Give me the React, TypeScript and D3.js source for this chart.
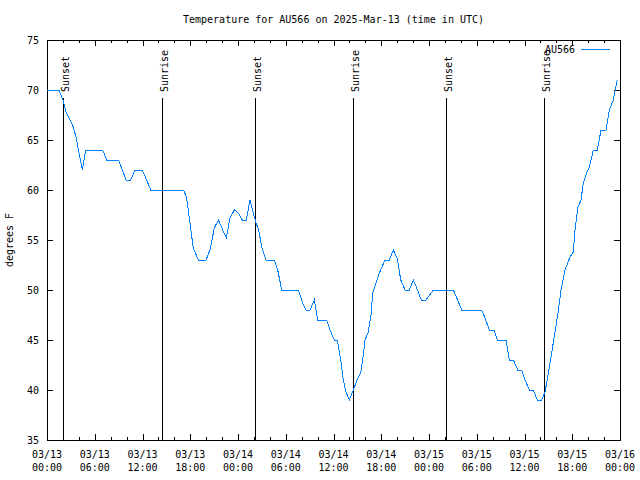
import React from "react";
import * as d3 from "d3";

const hours = [
  0, 1.5, 2.0, 2.4, 3.3, 3.64, 4.44, 4.86, 7.0, 7.5, 9.0, 9.93, 10.52, 11.06, 11.98,
  13.03, 17.05, 17.22, 17.55, 17.88, 18.38, 19.01, 19.98, 20.48, 21.02, 21.53, 22.08,
  22.53, 23.0, 23.54, 24.04, 24.54, 25.04, 25.51, 25.92, 26.23, 26.6, 26.98, 27.52,
  28.56, 28.99, 29.49, 31.58, 32.13, 32.55, 33.05, 33.59, 34.02, 35.15, 35.56, 36.1,
  36.48, 36.91, 37.23, 37.57, 37.99, 38.49, 38.96, 39.42, 39.67, 39.96, 40.37, 40.71,
  40.93, 41.13, 41.76, 42.47, 43.01, 43.52, 44.02, 44.45, 44.99, 45.53, 46.03, 46.46,
  47.03, 47.62, 48.54, 51.06, 51.49, 52.11, 54.62, 55.04, 55.58, 56.17, 56.58, 57.68,
  58.09, 58.6, 59.15, 59.65, 60.07, 60.61, 61.11, 61.61, 62.16, 62.58, 63.0, 63.43,
  63.84, 64.26, 64.59, 65.09, 65.72, 66.14, 66.35, 66.69, 67.1, 67.39, 67.82, 68.15,
  68.65, 69.15, 69.62, 70.24, 70.66, 71.16, 71.66,
];
const temps = [
  70, 70, 69, 67.8, 66.3, 65.3, 62, 64, 64, 63, 63, 61, 61, 62, 62,
  60, 60, 59.9, 59.2, 57.2, 54.2, 53, 53, 54, 56.2, 57, 56,
  55.2, 57.2, 58, 57.7, 57, 57, 59, 57.7, 56.8, 56, 54.3, 53,
  53, 52, 50, 50, 48.7, 48, 48, 49, 47, 47, 46, 45,
  45, 43, 41, 39.8, 39, 40, 41, 41.7, 43, 45, 45.8, 47.5,
  49.7, 50.2, 51.7, 53, 53, 54, 53.1, 51, 50, 50, 51, 50.2,
  49, 49, 50, 50, 49.2, 48, 48, 47.2, 46, 46, 45, 45,
  43, 43, 42, 42, 41, 40, 40, 39, 39, 39.8, 41.7, 43.8,
  45.8, 48, 50, 52, 53.3, 53.8, 56, 58.2, 59, 60.7, 61.7, 62.3,
  64, 64, 66, 66, 68, 69, 71,
];

const eventHours = [2.05, 14.49, 26.18, 38.49, 50.18, 62.5];
const eventLabels = ["Sunset", "Sunrise", "Sunset", "Sunrise", "Sunset", "Sunrise"];

const xTickHours = [0, 6, 12, 18, 24, 30, 36, 42, 48, 54, 60, 66, 72];
const xTickDates = ["03/13", "03/13", "03/13", "03/13", "03/14", "03/14", "03/14", "03/14", "03/15", "03/15", "03/15", "03/15", "03/16"];
const xTickTimes = ["00:00", "06:00", "12:00", "18:00", "00:00", "06:00", "12:00", "18:00", "00:00", "06:00", "12:00", "18:00", "00:00"];
const yTicks = [35, 40, 45, 50, 55, 60, 65, 70, 75];

const title = "Temperature for AU566 on 2025-Mar-13 (time in UTC)";
const yLabel = "degrees F";
const seriesName = "AU566";

const W = 640, H = 480;
const L = 47, R = 620, T = 40, B = 440;
const FONT = "'DejaVu Sans Mono', 'Liberation Mono', monospace";
const FS = 10;
const COLOR = "#0080ff";

export default function App() {
  const x = d3.scaleLinear().domain([0, 72]).range([L, R]);
  const y = d3.scaleLinear().domain([35, 75]).range([B, T]);
  const pts: [number, number][] = hours.map((h, i) => [h, temps[i]]);
  const line = d3.line<[number, number]>().x((d) => x(d[0])).y((d) => y(d[1]));
  const minor = d3.range(0, 72, 2).filter((h) => h % 6 !== 0);
  const px = (v: number) => Math.round(v) + 0.5;

  return (
    <svg width={W} height={H} style={{ position: "absolute", left: 0, top: 0, background: "#fff" }}
      fontFamily={FONT} fontSize={FS}>
      <rect x={0} y={0} width={W} height={H} fill="#fff" />
      <text x={(L + R) / 2} y={23} textAnchor="middle">{title}</text>
      <g stroke="#000" strokeWidth={1} shapeRendering="crispEdges" fill="none">
        {xTickHours.map((h, i) => (
          <g key={"mx" + i}>
            <line x1={px(x(h))} x2={px(x(h))} y1={B} y2={B - 6} />
            <line x1={px(x(h))} x2={px(x(h))} y1={T} y2={T + 6} />
          </g>
        ))}
        {minor.map((h, i) => (
          <g key={"mn" + i}>
            <line x1={px(x(h))} x2={px(x(h))} y1={B} y2={B - 3} />
            <line x1={px(x(h))} x2={px(x(h))} y1={T} y2={T + 3} />
          </g>
        ))}
        {yTicks.map((v, i) => (
          <g key={"yt" + i}>
            <line x1={L} x2={L + 6} y1={px(y(v))} y2={px(y(v))} />
            <line x1={R} x2={R - 6} y1={px(y(v))} y2={px(y(v))} />
          </g>
        ))}
        {eventHours.map((h, i) => (
          <line key={"ev" + i} x1={px(x(h))} x2={px(x(h))} y1={98} y2={B} />
        ))}
        <rect x={L + 0.5} y={T + 0.5} width={R - L} height={B - T} />
      </g>
      {eventHours.map((h, i) => (
        <text key={"evt" + i} transform={`translate(${px(x(h)) + 5},92) rotate(-90)`} textAnchor="start">
          {eventLabels[i]}
        </text>
      ))}
      <path d={line(pts) || ""} fill="none" stroke={COLOR} strokeWidth={1} shapeRendering="crispEdges" />
      {yTicks.map((v, i) => (
        <text key={"yl" + i} x={39} y={y(v) + 4} textAnchor="end">{v}</text>
      ))}
      {xTickHours.map((h, i) => (
        <g key={"xl" + i}>
          <text x={x(h)} y={458} textAnchor="middle">{xTickDates[i]}</text>
          <text x={x(h)} y={471} textAnchor="middle">{xTickTimes[i]}</text>
        </g>
      ))}
      <text transform={`translate(13,${(T + B) / 2}) rotate(-90)`} textAnchor="middle">{yLabel}</text>
      <text x={575} y={53} textAnchor="end">{seriesName}</text>
      <line x1={581} x2={610} y1={49.5} y2={49.5} stroke={COLOR} strokeWidth={1} shapeRendering="crispEdges" />
    </svg>
  );
}
